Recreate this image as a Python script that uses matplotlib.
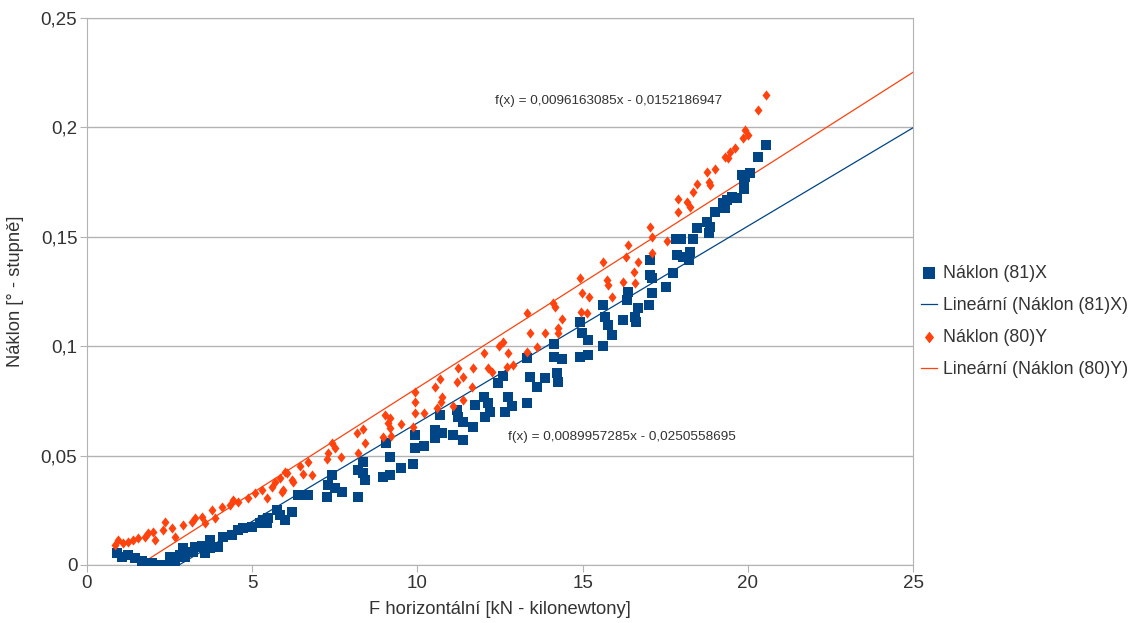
import matplotlib
matplotlib.use("Agg")
import matplotlib.pyplot as plt
import numpy as np

plt.rcParams["font.family"] = ["Liberation Sans", "DejaVu Sans"]

# Náklon (81)X - measured points
x81 = [0.91, 1.06, 1.24, 1.45, 1.66, 1.97, 2.27, 2.51, 2.66, 2.51, 2.81, 2.97,
       2.91, 3.21, 3.27, 3.48, 3.57, 3.72, 3.96, 3.72, 4.12, 4.39, 4.57, 4.72,
       4.99, 5.24, 5.33, 5.48, 5.45, 5.75, 5.84, 5.99, 6.20, 6.39, 6.69, 7.26,
       7.29, 7.42, 7.51, 7.72, 8.20, 8.20, 8.35, 8.35, 8.41, 8.96, 9.05, 9.17,
       9.17, 9.50, 9.87, 9.93, 9.93, 10.20, 10.53, 10.53, 10.68, 10.74, 11.08,
       11.20, 11.23, 11.38, 11.38, 11.68, 11.74, 12.02, 12.05, 12.14, 12.20,
       12.44, 12.59, 12.65, 12.74, 12.86, 13.32, 13.32, 13.41, 13.62, 13.86,
       14.13, 14.13, 14.23, 14.26, 14.38, 14.92, 14.92, 14.98, 15.16, 15.16,
       15.62, 15.62, 15.68, 15.77, 15.89, 16.22, 16.34, 16.37, 16.59, 16.62,
       16.68, 17.01, 17.04, 17.04, 17.10, 17.10, 17.52, 17.74, 17.83, 17.86,
       17.98, 18.04, 18.22, 18.25, 18.34, 18.46, 18.77, 18.83, 18.86, 19.01,
       19.25, 19.31, 19.37, 19.52, 19.67, 19.82, 19.89, 19.89, 19.92, 20.07,
       20.31, 20.55]
y81 = [0.0055, 0.0037, 0.0046, 0.0032, 0.0018, 0.0009, 0.0, 0.0, 0.0009, 0.0037,
       0.0046, 0.0037, 0.0078, 0.0059, 0.0082, 0.0087, 0.0055, 0.0078, 0.0082,
       0.0114, 0.0128, 0.0137, 0.0160, 0.0169, 0.0174, 0.0192, 0.0206, 0.0215,
       0.0192, 0.0251, 0.0229, 0.0206, 0.0242, 0.0320, 0.0320, 0.0311, 0.0366,
       0.0411, 0.0352, 0.0334, 0.0311, 0.0434, 0.0471, 0.0420, 0.0388, 0.0402,
       0.0558, 0.0494, 0.0411, 0.0443, 0.0462, 0.0594, 0.0535, 0.0544, 0.0617,
       0.0580, 0.0686, 0.0603, 0.0594, 0.0708, 0.0676, 0.0654, 0.0571, 0.0631,
       0.0731, 0.0768, 0.0676, 0.0740, 0.0699, 0.0832, 0.0864, 0.0699, 0.0768,
       0.0727, 0.0946, 0.0740, 0.0859, 0.0814, 0.0855, 0.1010, 0.0951, 0.0878,
       0.0836, 0.0941, 0.1111, 0.0951, 0.1060, 0.1028, 0.0960, 0.1188, 0.1001,
       0.1133, 0.1097, 0.1051, 0.1120, 0.1211, 0.1248, 0.1133, 0.1111, 0.1175,
       0.1188, 0.1394, 0.1325, 0.1243, 0.1312, 0.1271, 0.1335, 0.1490, 0.1417,
       0.1490, 0.1408, 0.1394, 0.1431, 0.1490, 0.1540, 0.1568, 0.1517, 0.1545,
       0.1613, 0.1654, 0.1632, 0.1668, 0.1682, 0.1677, 0.1782, 0.1737, 0.1718,
       0.1773, 0.1792, 0.1865, 0.1920]

# Náklon (80)Y - measured points
x80 = [0.85, 0.94, 1.09, 1.24, 1.39, 1.54, 1.76, 1.85, 2.00, 2.06, 2.30, 2.36,
       2.57, 2.66, 2.91, 3.18, 3.27, 3.48, 3.57, 3.78, 3.87, 4.09, 4.33, 4.42,
       4.57, 4.87, 5.08, 5.30, 5.45, 5.60, 5.69, 5.84, 5.93, 6.05, 6.20, 5.90,
       5.99, 6.23, 6.45, 6.54, 6.69, 6.81, 7.26, 7.29, 7.42, 7.51, 7.69, 8.17,
       8.20, 8.35, 8.41, 8.96, 9.02, 9.11, 9.17, 9.17, 9.20, 9.50, 9.87, 9.93,
       9.93, 9.93, 10.20, 10.53, 10.59, 10.68, 10.71, 10.74, 11.08, 11.20, 11.23,
       11.38, 11.38, 11.65, 11.68, 12.02, 12.14, 12.26, 12.47, 12.59, 12.71,
       12.74, 12.89, 13.32, 13.32, 13.41, 13.62, 13.86, 14.10, 14.16, 14.26,
       14.26, 14.38, 14.92, 14.95, 14.98, 15.13, 15.19, 15.62, 15.74, 15.77,
       15.89, 16.22, 16.31, 16.37, 16.56, 16.59, 16.68, 17.04, 17.10, 17.10,
       17.55, 17.89, 17.89, 18.16, 18.25, 18.34, 18.46, 18.77, 18.83, 18.86,
       19.01, 19.31, 19.40, 19.46, 19.61, 19.85, 19.92, 20.01, 20.31, 20.55]
y80 = [0.0091, 0.0114, 0.0101, 0.0105, 0.0114, 0.0123, 0.0128, 0.0146, 0.0151,
       0.0114, 0.0160, 0.0197, 0.0169, 0.0128, 0.0183, 0.0197, 0.0215, 0.0219,
       0.0192, 0.0251, 0.0215, 0.0265, 0.0274, 0.0297, 0.0288, 0.0306, 0.0329,
       0.0343, 0.0306, 0.0356, 0.0379, 0.0398, 0.0343, 0.0420, 0.0388, 0.0334,
       0.0425, 0.0379, 0.0452, 0.0416, 0.0471, 0.0411, 0.0484, 0.0512, 0.0558,
       0.0535, 0.0494, 0.0603, 0.0512, 0.0622, 0.0558, 0.0585, 0.0686, 0.0649,
       0.0672, 0.0626, 0.0590, 0.0644, 0.0631, 0.0791, 0.0745, 0.0695, 0.0695,
       0.0814, 0.0718, 0.0850, 0.0745, 0.0768, 0.0727, 0.0836, 0.0900, 0.0859,
       0.0754, 0.0814, 0.0900, 0.0969, 0.0900, 0.0882, 0.1001, 0.1019, 0.0905,
       0.0969, 0.0914, 0.0973, 0.1152, 0.1060, 0.0996, 0.1060, 0.1197, 0.1179,
       0.1083, 0.1060, 0.1124, 0.1312, 0.1156, 0.1243, 0.1152, 0.1225, 0.1385,
       0.1303, 0.1280, 0.1225, 0.1293, 0.1408, 0.1463, 0.1339, 0.1289, 0.1385,
       0.1545, 0.1499, 0.1426, 0.1481, 0.1673, 0.1613, 0.1659, 0.1636, 0.1705,
       0.1741, 0.1796, 0.1750, 0.1737, 0.1810, 0.1865, 0.1860, 0.1888, 0.1906,
       0.1952, 0.1988, 0.1965, 0.2080, 0.2148]

# linear trend coefficients (slope, intercept)
fit81 = (0.0089957285, -0.0250558695)
fit80 = (0.0096163085, -0.0152186947)

blue = "#004586"
orange = "#ff420e"
grid_c = "#b3b3b3"
txt_c = "#333333"

# narrow diamond like the office-suite marker
diamond = [(0, 1), (0.78, 0), (0, -1), (-0.78, 0), (0, 1)]

fig = plt.figure(figsize=(11.4, 6.23), dpi=100)
ax = fig.add_axes([0.0763, 0.0931, 0.7246, 0.878])

xs = np.linspace(0, 25, 200)
ax.scatter(x81, y81, marker="s", s=52, color=blue, linewidths=0, zorder=3,
           label="Náklon (81)X")
ax.plot(xs, fit81[0] * xs + fit81[1], color=blue, lw=0.9, zorder=2,
        label="Lineární (Náklon (81)X)")
ax.scatter(x80, y80, marker=diamond, s=54, color=orange, linewidths=0, zorder=4,
           label="Náklon (80)Y")
ax.plot(xs, fit80[0] * xs + fit80[1], color=orange, lw=0.9, zorder=2,
        label="Lineární (Náklon (80)Y)")

ax.text(15.8, 0.212, "f(x) = 0,0096163085x - 0,0152186947", fontsize=9.7,
        ha="center", va="center", color=txt_c)
ax.text(16.2, 0.0585, "f(x) = 0,0089957285x - 0,0250558695", fontsize=9.7,
        ha="center", va="center", color=txt_c)

ax.set_xlim(0, 25)
ax.set_ylim(0, 0.25)
ax.set_xticks([0, 5, 10, 15, 20, 25])
ax.set_xticklabels(["0", "5", "10", "15", "20", "25"])
yt = [0, 0.05, 0.1, 0.15, 0.2, 0.25]
ax.set_yticks(yt)
ax.set_yticklabels(["0", "0,05", "0,1", "0,15", "0,2", "0,25"])
ax.yaxis.grid(True, color=grid_c, lw=1)
ax.set_axisbelow(True)
for s in ax.spines.values():
    s.set_color(grid_c)
ax.tick_params(colors=grid_c, labelcolor=txt_c, labelsize=13.5, length=5, pad=2)

ax.set_xlabel("F horizontální [kN - kilonewtony]", fontsize=13.2, color=txt_c,
              labelpad=7)
ax.set_ylabel("Náklon [° - stupně]", fontsize=13.2, color=txt_c, labelpad=12)

ax.legend(loc="center left", bbox_to_anchor=(1.0, 0.445), frameon=False,
          fontsize=12.8, handlelength=0.9, handletextpad=0.35, labelspacing=0.85,
          borderaxespad=0.05, markerscale=1.15, labelcolor=txt_c)

fig.savefig("out.png", dpi=100)
